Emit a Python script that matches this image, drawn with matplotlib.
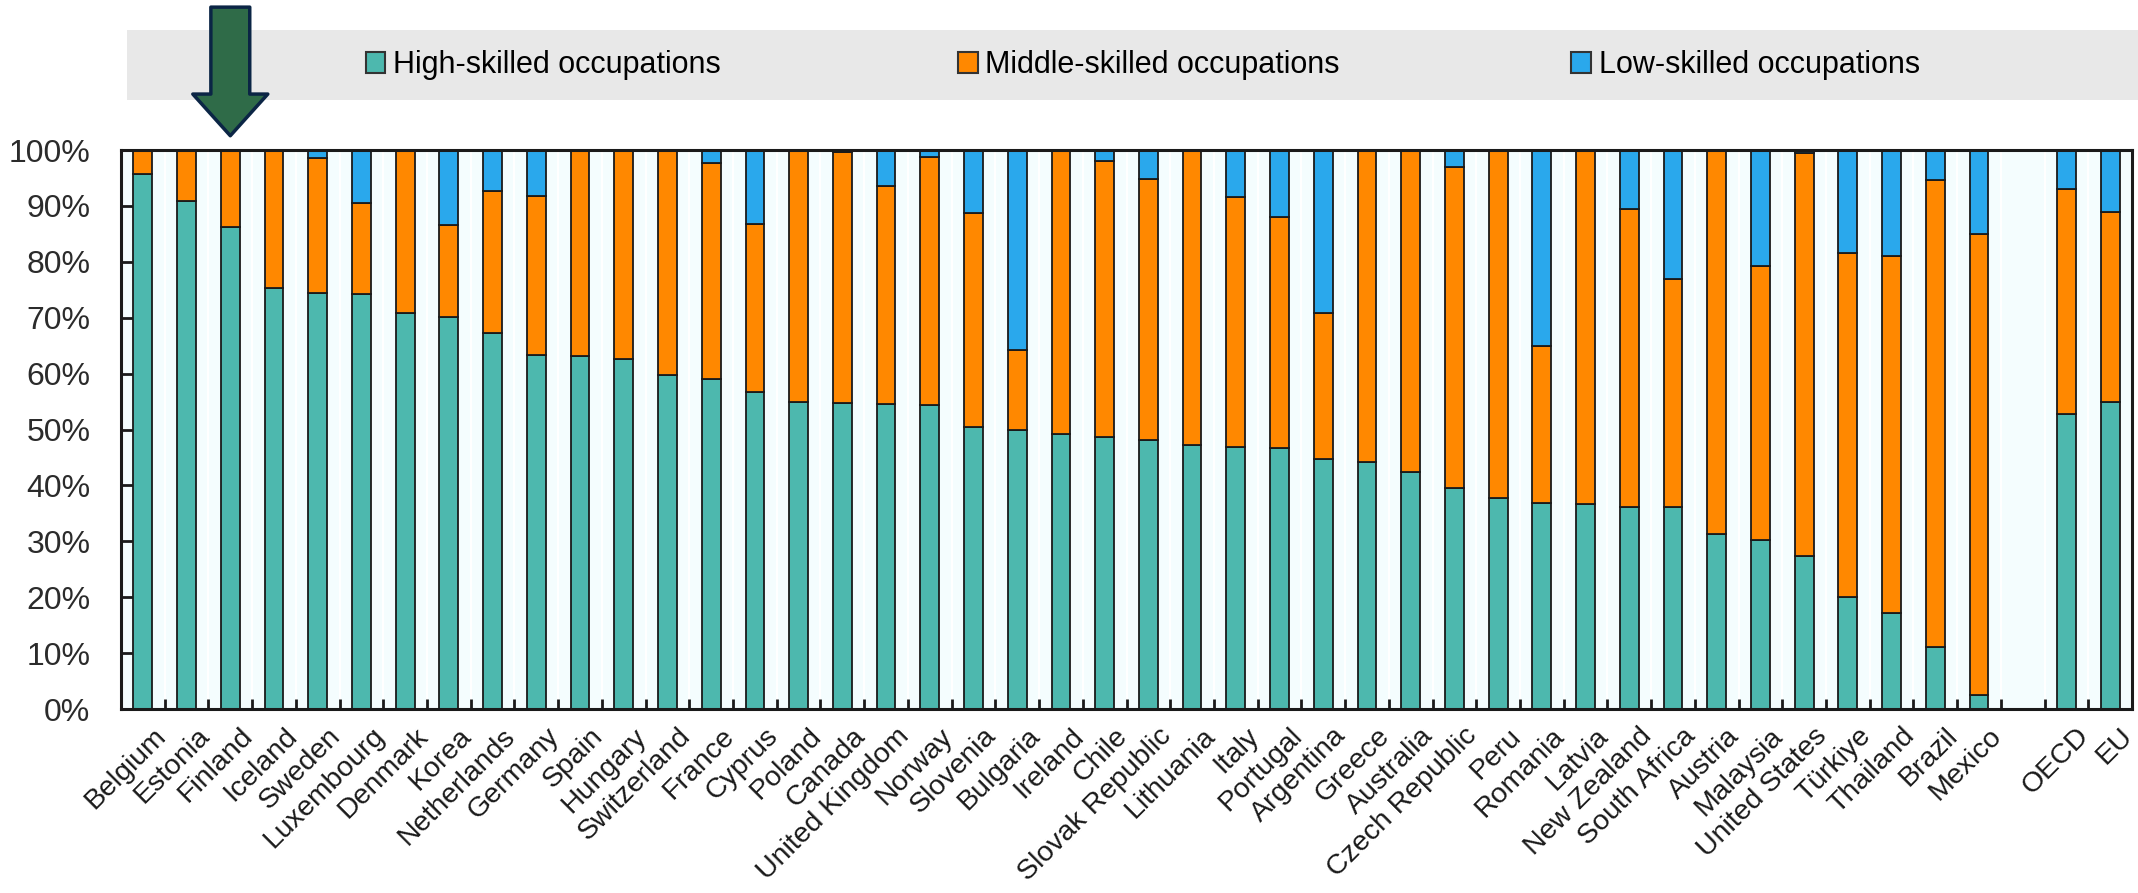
import numpy as np
import matplotlib
matplotlib.use("Agg")
import matplotlib.pyplot as plt
import matplotlib.transforms as mtrans
from matplotlib.patches import Rectangle, Patch

# data (shares, %)
countries = ["Belgium", "Estonia", "Finland", "Iceland", "Sweden", "Luxembourg", "Denmark",
             "Korea", "Netherlands", "Germany", "Spain", "Hungary", "Switzerland", "France",
             "Cyprus", "Poland", "Canada", "United Kingdom", "Norway", "Slovenia", "Bulgaria",
             "Ireland", "Chile", "Slovak Republic", "Lithuania", "Italy", "Portugal",
             "Argentina", "Greece", "Australia", "Czech Republic", "Peru", "Romania", "Latvia",
             "New Zealand", "South Africa", "Austria", "Malaysia", "United States", "Türkiye",
             "Thailand", "Brazil", "Mexico", "", "OECD", "EU"]

high = [95.7, 90.9, 86.3, 75.4, 74.5, 74.3, 70.9, 70.2, 67.3, 63.4, 63.1, 62.7, 59.8, 59.0,
        56.7, 55.0, 54.8, 54.5, 54.3, 50.4, 49.9, 49.2, 48.7, 48.1, 47.2, 46.8, 46.7,
        44.8, 44.2, 42.4, 39.6, 37.8, 36.9, 36.7, 36.2, 36.2, 31.4, 30.2, 27.3, 20.0,
        17.1, 11.1, 2.5, 0, 52.8, 54.9]

# cumulative top of the middle-skilled segment
high_mid = [100, 100, 100, 100, 98.5, 90.6, 100, 86.6, 92.6, 91.8, 100, 100, 100, 97.7,
            86.8, 100, 99.6, 93.5, 98.8, 88.7, 64.3, 100, 98.1, 94.8, 100, 91.6, 88.0,
            70.9, 100, 100, 96.9, 100, 64.9, 100, 89.5, 76.9, 100, 79.3, 99.5, 81.5,
            81.1, 94.7, 85.0, 0, 93.1, 89.0]

high = np.array(high)
middle = np.array(high_mid) - high
low = np.where(np.array(high_mid) > 0, 100 - np.array(high_mid), 0)

c_high = "#4DB8AE"
c_mid = "#FF8800"
c_low = "#2AA8EC"

plt.rcParams['font.family'] = ['Liberation Sans', 'DejaVu Sans']

fig = plt.figure(figsize=(21.38, 8.93), dpi=100)
ax = fig.add_axes([0.0566, 0.206, 0.9406, 0.626])
ax.set_facecolor("#F4FDFE")

x = np.arange(len(countries))
bw = 0.43
ax.bar(x, high, bw, color=c_high, edgecolor="#1a1a1a", linewidth=1.3)
ax.bar(x, middle, bw, bottom=high, color=c_mid, edgecolor="#1a1a1a", linewidth=1.3)
ax.bar(x, low, bw, bottom=high + middle, color=c_low, edgecolor="#1a1a1a", linewidth=1.3)

ax.set_xlim(-0.5, len(countries) - 0.5)
ax.set_ylim(0, 100)
ax.set_yticks(np.arange(0, 101, 10))
ax.set_yticklabels([f"{v}%" for v in range(0, 101, 10)])

ax.set_xticks(x)
ax.set_xticklabels(countries, rotation=45, ha="right", rotation_mode="anchor")
ax.set_xticks(np.arange(-0.5, len(countries) + 0.5, 1)[1:-1], minor=True)
ax.tick_params(axis="x", which="major", length=0, pad=10, labelsize=20.5, labelcolor="#1a1a1a")
ax.tick_params(axis="x", which="minor", direction="in", length=7, width=2, color="#1a1a1a")
ax.tick_params(axis="y", direction="in", length=10, width=2, color="#1a1a1a",
               pad=22, labelsize=23, labelcolor="#2b2b2b")
ax.grid(axis="x", which="minor", color="white", linewidth=1.5)
ax.set_axisbelow(True)

# shift rotated labels a little right, like the original
offset = mtrans.ScaledTranslation(7 / 72, 0, fig.dpi_scale_trans)
for lab in ax.get_xticklabels():
    lab.set_transform(lab.get_transform() + offset)

for s in ax.spines.values():
    s.set_color("#1a1a1a")
    s.set_linewidth(2.2)

# legend band
fig.patches.append(Rectangle((0.0594, 0.888), 0.9406, 0.078, transform=fig.transFigure,
                             facecolor="#E8E8E8", edgecolor="none", zorder=-1))
entries = [("High-skilled occupations", c_high, 0.171),
           ("Middle-skilled occupations", c_mid, 0.448),
           ("Low-skilled occupations", c_low, 0.735)]
for lab, col, xpos in entries:
    fig.legend(handles=[Patch(facecolor=col, edgecolor="#333333", linewidth=1.5, label=lab)],
               loc="center left", bbox_to_anchor=(xpos, 0.927), frameon=False,
               fontsize=22, handlelength=0.65, handleheight=0.65, handletextpad=0.25,
               borderpad=0, borderaxespad=0)

# arrow pointing at Finland
arr = ax.annotate("", xy=(2, 0.848), xycoords=("data", "figure fraction"),
                  xytext=(2, 0.992), textcoords=("data", "figure fraction"),
                  arrowprops=dict(arrowstyle="simple,head_length=3.0,head_width=5.4,tail_width=2.8",
                                  mutation_scale=10, shrinkA=0, shrinkB=0,
                                  fc="#2F6B48", ec="#0B2545", lw=2.5),
                  annotation_clip=False)
arr.set_zorder(10)

fig.savefig("out.png", dpi=100, facecolor="white")
